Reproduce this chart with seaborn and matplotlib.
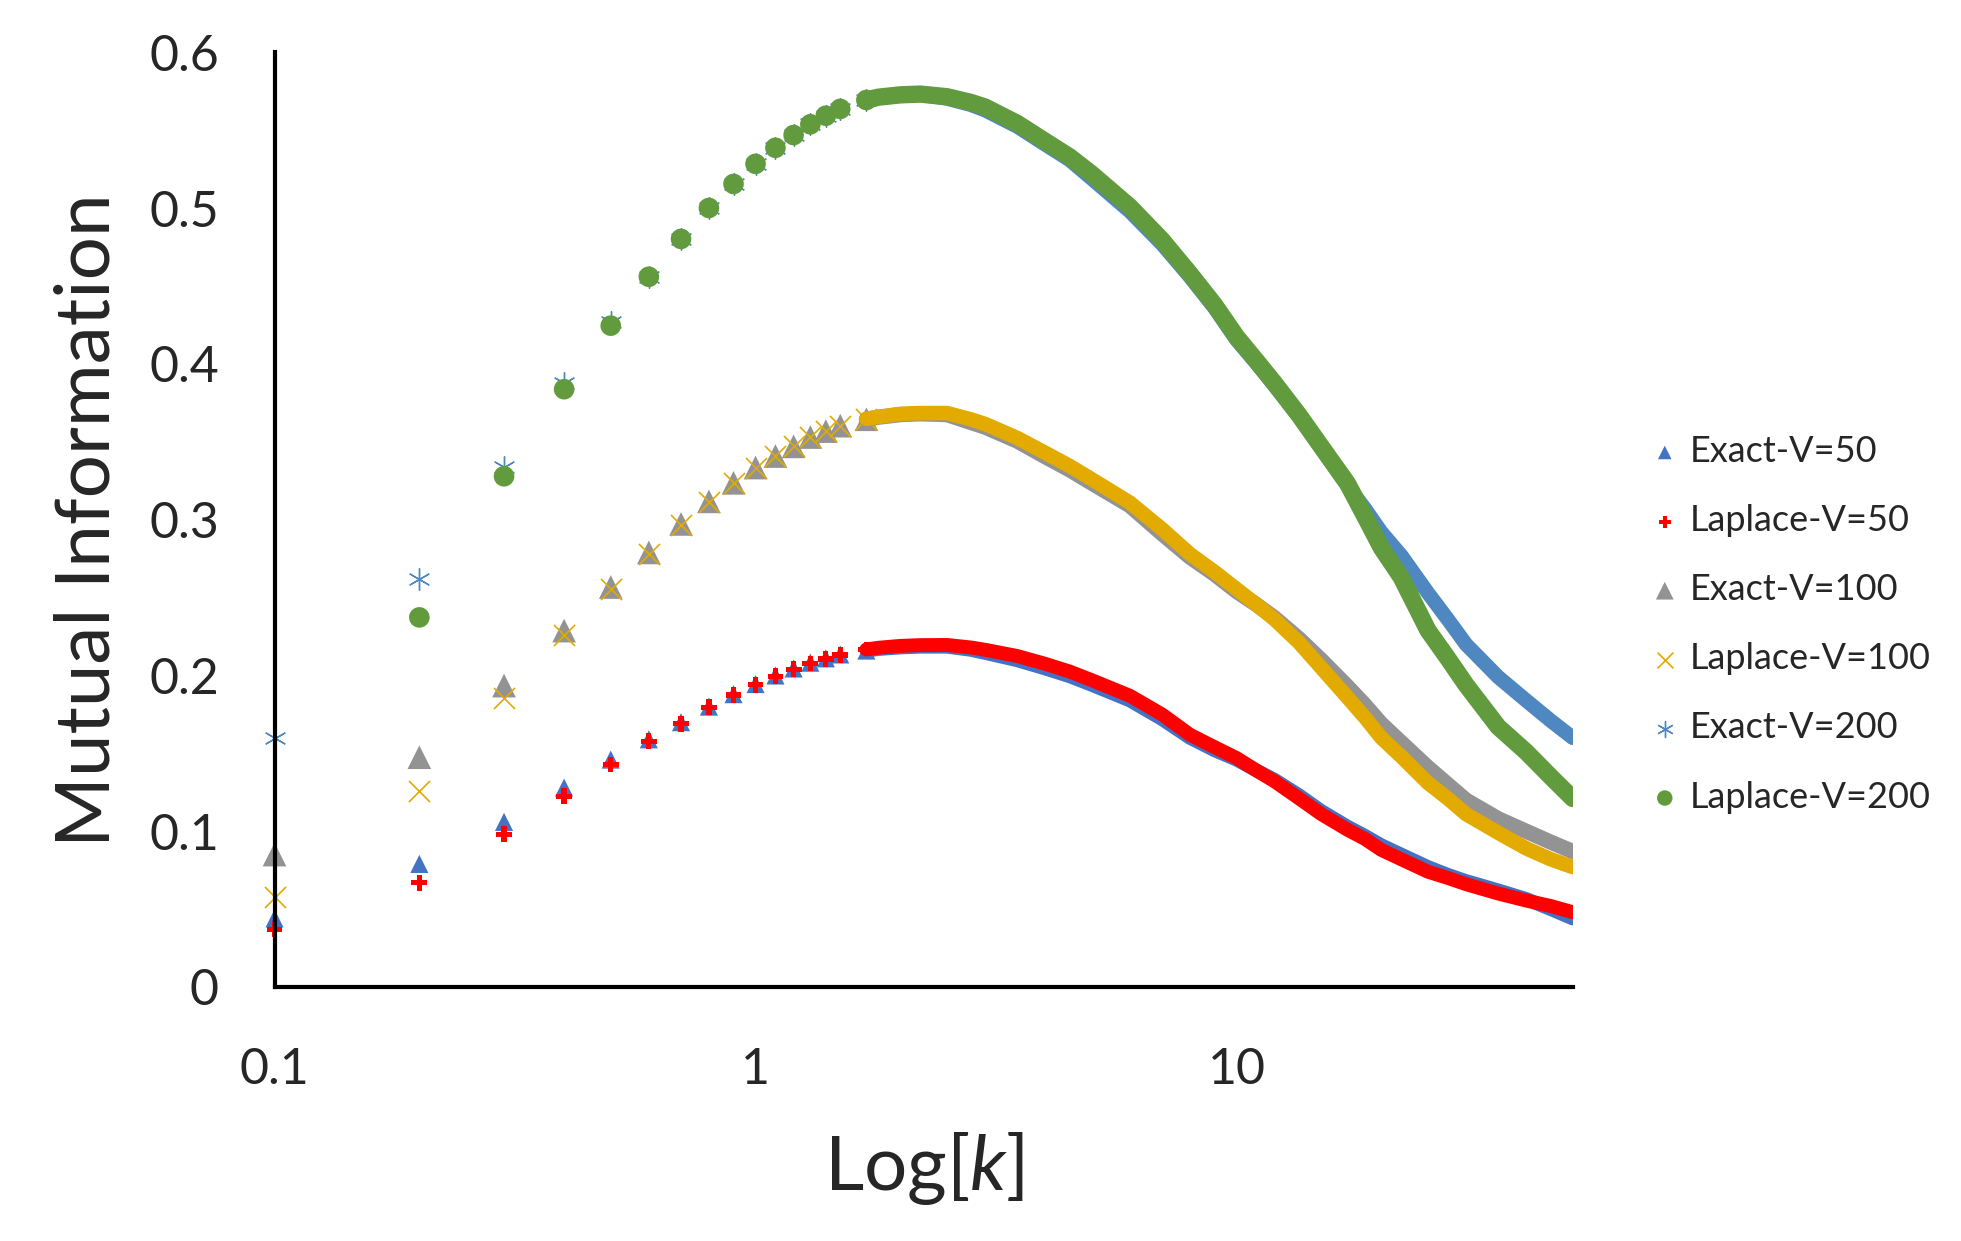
import numpy as np
import pandas as pd
import seaborn as sns
import matplotlib
import matplotlib.pyplot as plt

matplotlib.use("Agg")

# k grid (sparse markers up to 1.5, dense band from 1.7 on)
k_values = [0.1, 0.2, 0.3, 0.4, 0.5, 0.6, 0.7, 0.8, 0.9, 1.0, 1.1, 1.2, 1.3, 1.4, 1.5,
            1.7, 1.8, 2.0, 2.2, 2.5, 2.8, 3, 3.5, 4, 4.5, 5, 6, 7, 8, 9, 10, 11, 12, 13.5, 15,
            17, 18.5, 20, 22, 25, 27.5, 30, 35, 40, 45, 50]

exact_v50 = [0.044, 0.079, 0.106, 0.128, 0.146, 0.159, 0.170, 0.180, 0.188, 0.1945, 0.2, 0.2045, 0.2082, 0.211, 0.2135,
             0.216, 0.217, 0.218, 0.2185, 0.2185, 0.2165, 0.2145, 0.2098, 0.2045, 0.1995, 0.194, 0.184, 0.172,
             0.160, 0.152, 0.146, 0.139, 0.133, 0.123, 0.113, 0.103, 0.097, 0.091, 0.085, 0.077, 0.072,
             0.068, 0.062, 0.0565, 0.050, 0.044]
laplace_v50 = [0.037, 0.067, 0.098, 0.1225, 0.1428, 0.1578, 0.169, 0.1795, 0.1875, 0.194, 0.1995, 0.204, 0.2077, 0.2105, 0.2132,
               0.2167, 0.2178, 0.219, 0.2195, 0.2196, 0.218, 0.2165, 0.2125, 0.2075, 0.2025, 0.197, 0.187, 0.175,
               0.162, 0.154, 0.147, 0.139, 0.132, 0.121, 0.111, 0.101, 0.095, 0.088, 0.082, 0.074, 0.070,
               0.066, 0.060, 0.0555, 0.052, 0.048]
exact_v100 = [0.085, 0.1475, 0.1935, 0.2288, 0.2568, 0.279, 0.2973, 0.3118, 0.3237, 0.3335, 0.3409, 0.3471, 0.3531, 0.3569, 0.3604,
              0.3645, 0.3658, 0.3675, 0.368, 0.3675, 0.3625, 0.3595, 0.3505, 0.3405, 0.332, 0.3235, 0.309, 0.291,
              0.276, 0.265, 0.254, 0.2455, 0.237, 0.2235, 0.210, 0.193, 0.181, 0.169, 0.157, 0.141, 0.130,
              0.120, 0.108, 0.100, 0.093, 0.087]
laplace_v100 = [0.058, 0.126, 0.1853, 0.226, 0.2555, 0.278, 0.2965, 0.3115, 0.3235, 0.3335, 0.341, 0.3472, 0.3532, 0.357, 0.3605,
                0.3648, 0.366, 0.368, 0.3685, 0.3685, 0.3645, 0.3615, 0.3525, 0.343, 0.3345, 0.326, 0.311, 0.294,
                0.278, 0.2665, 0.2555, 0.2455, 0.236, 0.221, 0.205, 0.186, 0.173, 0.160, 0.148, 0.131, 0.121,
                0.111, 0.099, 0.089, 0.082, 0.077]
exact_v200 = [0.160, 0.262, 0.334, 0.3875, 0.427, 0.456, 0.480, 0.500, 0.5156, 0.5285, 0.5388, 0.547, 0.5539, 0.5594, 0.5638,
              0.5695, 0.5713, 0.5725, 0.573, 0.5705, 0.5665, 0.563, 0.5525, 0.541, 0.531, 0.519, 0.498, 0.477,
              0.456, 0.436, 0.4155, 0.4005, 0.386, 0.366, 0.346, 0.322, 0.307, 0.292, 0.277, 0.253, 0.236,
              0.220, 0.199, 0.184, 0.171, 0.160]
laplace_v200 = [np.nan, 0.2373, 0.3279, 0.3838, 0.4246, 0.456, 0.4803, 0.5002, 0.5156, 0.5285, 0.5388, 0.547, 0.5539, 0.5594, 0.5638,
                0.5695, 0.5713, 0.5728, 0.5733, 0.5716, 0.568, 0.565, 0.5545, 0.543, 0.533, 0.522, 0.501, 0.4796,
                0.458, 0.438, 0.4175, 0.402, 0.3876, 0.367, 0.347, 0.3234, 0.302, 0.282, 0.263, 0.229, 0.211,
                0.194, 0.167, 0.151, 0.135, 0.121]

series_names = ['Exact-V=50', 'Laplace-V=50', 'Exact-V=100', 'Laplace-V=100', 'Exact-V=200', 'Laplace-V=200']
series_values = [exact_v50, laplace_v50, exact_v100, laplace_v100, exact_v200, laplace_v200]

# name -> (colour, marker, size, marker line width, band width)
styles = {
    'Exact-V=50': ('#4472C4', '^', 170, 0, 10.0),
    'Laplace-V=50': ('#FF0000', 'P', 130, 0, 10.0),
    'Exact-V=100': ('#939393', '^', 290, 0, 11.0),
    'Laplace-V=100': ('#E3AA00', 'x', 230, 1.2, 10.5),
    'Exact-V=200': ('#4F88C0', (6, 2, 0), 240, 1.0, 10.5),
    'Laplace-V=200': ('#629B3E', 'o', 220, 0, 12.5),
}

df = pd.concat([pd.DataFrame({'k': k_values, 'mi': vals, 'series': name})
                for name, vals in zip(series_names, series_values)], ignore_index=True)

sns.set_style("white")
plt.rcParams['font.family'] = ['Lato', 'DejaVu Sans']
plt.rcParams['mathtext.fontset'] = 'custom'
plt.rcParams['mathtext.it'] = 'Lato:italic'
plt.rcParams['mathtext.rm'] = 'Lato'

fig = plt.figure(figsize=(19.61, 12.41), dpi=100)
ax = fig.add_axes([0.140, 0.2047, 0.662, 0.753])

for name in series_names:
    color, marker, size, mlw, band = styles[name]
    sub = df[df['series'] == name]
    dense = sub[sub['k'] >= 1.7]
    sparse = sub[sub['k'] <= 1.7]
    sns.lineplot(data=dense, x='k', y='mi', color=color, linewidth=band, ax=ax,
                 legend=False, solid_capstyle='round', solid_joinstyle='round',
                 sort=True, estimator=None)
    if mlw > 0:
        sns.scatterplot(data=sparse, x='k', y='mi', marker=marker, s=size, color=color,
                        edgecolor=color, linewidth=mlw, label=name, ax=ax, clip_on=False)
    else:
        sns.scatterplot(data=sparse, x='k', y='mi', marker=marker, s=size, color=color,
                        edgecolor='none', linewidth=0, label=name, ax=ax, clip_on=False)

ax.set_xscale('log')
ax.set_xlim(0.1, 50)
ax.set_ylim(0, 0.6)
ax.set_xticks([0.1, 1, 10])
ax.set_xticklabels(['0.1', '1', '10'])
ax.xaxis.set_minor_locator(matplotlib.ticker.NullLocator())
ax.set_yticks([0, 0.1, 0.2, 0.3, 0.4, 0.5, 0.6])
ax.set_yticklabels(['0', '0.1', '0.2', '0.3', '0.4', '0.5', '0.6'])
ax.tick_params(axis='both', length=0, labelsize=36)
ax.tick_params(axis='y', pad=40)
ax.tick_params(axis='x', pad=43)

for side in ['top', 'right']:
    ax.spines[side].set_visible(False)
for side in ['left', 'bottom']:
    ax.spines[side].set_color('black')
    ax.spines[side].set_linewidth(3)
    ax.spines[side].set_zorder(1)

ax.set_xlabel('Log[$k$]', fontsize=55)
ax.set_ylabel('Mutual Information', fontsize=55)
ax.yaxis.set_label_coords(-0.117, 0.5)
ax.xaxis.set_label_coords(0.5, -0.153)

handles, labels = ax.get_legend_handles_labels()
ax.legend(handles, labels, loc='center left', bbox_to_anchor=(0.825, 0.497),
          bbox_transform=fig.transFigure, frameon=False, fontsize=26,
          labelspacing=1.0, handletextpad=0.3, handlelength=0.8, markerscale=0.75)

fig.savefig('out.png', dpi=100)
